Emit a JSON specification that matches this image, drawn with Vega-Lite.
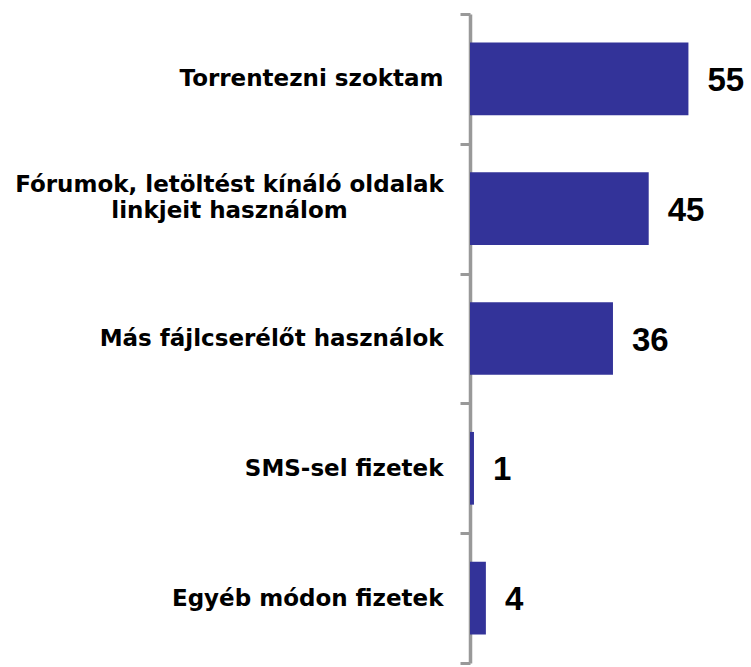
{
  "$schema": "https://vega.github.io/schema/vega-lite/v6.json",
  "autosize": {"type": "none"},
  "padding": {"left": 470, "top": 14, "right": 0, "bottom": 4},
  "width": 278,
  "height": 649,
  "background": "white",
  "config": {"view": {"stroke": null}},
  "data": {
    "values": [
      {"kategoria": "Torrentezni szoktam", "ertek": 55},
      {"kategoria": "Fórumok, letöltést kínáló oldalak|linkjeit használom", "ertek": 45},
      {"kategoria": "Más fájlcserélőt használok", "ertek": 36},
      {"kategoria": "SMS-sel fizetek", "ertek": 1},
      {"kategoria": "Egyéb módon fizetek", "ertek": 4}
    ]
  },
  "encoding": {
    "y": {
      "field": "kategoria",
      "type": "nominal",
      "sort": null,
      "scale": {"paddingInner": 0, "paddingOuter": 0},
      "axis": {
        "title": null,
        "domainColor": "#999999",
        "domainWidth": 3.5,
        "tickColor": "#999999",
        "tickWidth": 3,
        "tickSize": 10,
        "tickBand": "extent",
        "labelFont": "DejaVu Sans",
        "labelFontWeight": "bold",
        "labelFontSize": 23,
        "labelColor": "#000000",
        "labelLimit": 0,
        "labelLineHeight": 26,
        "labelExpr": "split(datum.label, '|')",
        "labelAlign": {"condition": {"test": "indexof(datum.label, '|') >= 0", "value": "center"}, "value": "right"},
        "labelPadding": {"condition": {"test": "indexof(datum.label, '|') >= 0", "value": 231}, "value": 17},
        "labelOffset": {"condition": {"test": "indexof(datum.label, '|') >= 0", "value": -24}, "value": 0}
      }
    },
    "x": {
      "field": "ertek",
      "type": "quantitative",
      "scale": {"domain": [0, 70]},
      "axis": null
    }
  },
  "layer": [
    {"mark": {"type": "bar", "color": "#333399", "height": {"band": 0.56}}},
    {
      "mark": {"type": "text", "align": "left", "baseline": "middle", "dx": 19, "dy": 2, "font": "Liberation Sans", "fontWeight": "bold", "fontSize": 33, "color": "#000000"},
      "encoding": {"text": {"field": "ertek", "type": "quantitative"}}
    }
  ]
}
